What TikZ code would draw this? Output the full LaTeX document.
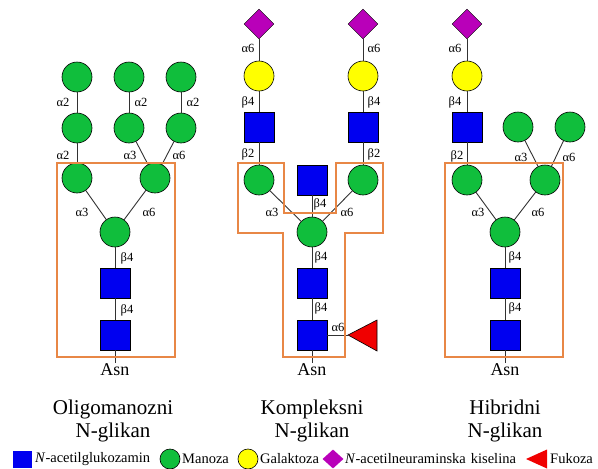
\documentclass[tikz,border=0pt]{standalone}
\usepackage{fontspec}
\setmainfont{Liberation Serif}
\usetikzlibrary{shapes.geometric}
\definecolor{gnblue}{RGB}{0,0,240}
\definecolor{mangreen}{RGB}{16,190,60}
\definecolor{galyel}{RGB}{255,255,0}
\definecolor{neupur}{RGB}{185,0,185}
\definecolor{fucred}{RGB}{240,0,0}
\definecolor{boxorange}{RGB}{232,135,70}
\definecolor{linkgray}{RGB}{50,50,50}
\tikzset{
  glc/.style={draw=black,line width=0.6pt,fill=gnblue,rectangle,minimum width=30pt,minimum height=30pt,inner sep=0pt},
  man/.style={draw=black,line width=0.6pt,fill=mangreen,circle,minimum size=30pt,inner sep=0pt},
  gal/.style={draw=black,line width=0.6pt,fill=galyel,circle,minimum size=30pt,inner sep=0pt},
  neu/.style={draw=black,line width=0.4pt,fill=neupur,diamond,minimum width=30pt,minimum height=30pt,inner sep=0pt},
  link/.style={draw=linkgray,line width=0.9pt},
  lab/.style={font=\fontsize{12.5}{13}\selectfont,inner sep=0pt},
  asnlab/.style={font=\fontsize{18}{19}\selectfont,inner sep=1pt},
  title/.style={font=\fontsize{21}{23.5}\selectfont,align=center,inner sep=0pt},
  legtext/.style={font=\fontsize{14.5}{16}\selectfont,anchor=west,inner sep=0pt},
  frame/.style={draw=boxorange,line width=1.8pt},
}
\begin{document}
\begin{tikzpicture}[x=1pt,y=-1pt]
\useasboundingbox (0,0) rectangle (598,469);

% ================= Oligomannose =================
\node[man] (o11) at (77,77) {};
\node[man] (o21) at (129,77) {};
\node[man] (o31) at (181,77) {};
\node[man] (o12) at (77,128) {};
\node[man] (o22) at (129,128) {};
\node[man] (o32) at (181,128) {};
\node[man] (oL) at (77,178) {};
\node[man] (oR) at (155,178) {};
\node[man] (oC) at (115,232) {};
\node[glc] (oS1) at (115,283) {};
\node[glc] (oS2) at (115,335) {};
\node[asnlab] (oAsn) at (115,370) {Asn};
\draw[link] (o11) -- (o12);
\draw[link] (o21) -- (o22);
\draw[link] (o31) -- (o32);
\draw[link] (o12) -- (oL);
\draw[link] (o22) -- (oR);
\draw[link] (o32) -- (oR);
\draw[link] (oL) -- (oC);
\draw[link] (oR) -- (oC);
\draw[link] (oC) -- (oS1);
\draw[link] (oS1) -- (oS2);
\draw[link] (oS2) -- (oAsn);
\node[lab] (ol1) at (63,102) {α2};
\node[lab] (ol2) at (141,102) {α2};
\node[lab] (ol3) at (193,102) {α2};
\node[lab] (ol4) at (63,155) {α2};
\node[lab] (ol5) at (130,155) {α3};
\node[lab] (ol6) at (179,155) {α6};
\node[lab] (ol7) at (82,212) {α3};
\node[lab] (ol8) at (149,212) {α6};
\node[lab] (ol9) at (127,258) {β4};
\node[lab] (ol10) at (127,310) {β4};
\draw[frame] (57,163) rectangle (175,357);
\node[title] (oT) at (113,421) {Oligomanozni\\N-glikan};

% ================= Complex =================
\node[neu] (cN1) at (259,24) {};
\node[neu] (cN2) at (363,24) {};
\node[gal] (cG1) at (259,76) {};
\node[gal] (cG2) at (363,76) {};
\node[glc] (cA1) at (259,127) {};
\node[glc] (cA2) at (363,127) {};
\node[man] (cL) at (259,180) {};
\node[man] (cR) at (363,180) {};
\node[glc] (cB) at (312,180) {};
\node[man] (cC) at (312,232) {};
\node[glc] (cS1) at (312,283) {};
\node[glc] (cS2) at (312,335) {};
\coordinate (cFt) at (348,335);
\node[asnlab] (cAsn) at (312,370) {Asn};
\draw[link] (cN1) -- (cG1);
\draw[link] (cN2) -- (cG2);
\draw[link] (cG1) -- (cA1);
\draw[link] (cG2) -- (cA2);
\draw[link] (cA1) -- (cL);
\draw[link] (cA2) -- (cR);
\draw[link] (cL) -- (cC);
\draw[link] (cR) -- (cC);
\draw[link] (cB) -- (cC);
\draw[link] (cC) -- (cS1);
\draw[link] (cS1) -- (cS2);
\draw[link] (cS2) -- (cFt);
\draw[link] (cS2) -- (cAsn);
\draw[draw=black,line width=0.6pt,fill=fucred] (cFt) -- (377,320) -- (377,351) -- cycle;
\node[lab] (cl1) at (248,48) {α6};
\node[lab] (cl2) at (374,48) {α6};
\node[lab] (cl3) at (248,102) {β4};
\node[lab] (cl4) at (374,102) {β4};
\node[lab] (cl5) at (248,154) {β2};
\node[lab] (cl6) at (374,154) {β2};
\node[lab] (cl7) at (320,204) {β4};
\node[lab] (cl8) at (272,212) {α3};
\node[lab] (cl9) at (347,212) {α6};
\node[lab] (cl10) at (321,257) {β4};
\node[lab] (cl11) at (321,308) {β4};
\node[lab] (cl12) at (338,327) {α6};
\draw[frame] (238,163) -- (284,163) -- (284,213) -- (336,213) -- (336,163) -- (383,163)
  -- (383,233) -- (345,233) -- (345,357) -- (283,357) -- (283,233) -- (238,233) -- cycle;
\node[title] (cT) at (312,421) {Kompleksni\\N-glikan};

% ================= Hybrid =================
\node[neu] (hN) at (467,24) {};
\node[gal] (hG) at (467,76) {};
\node[glc] (hA) at (467,127) {};
\node[man] (hM1) at (518,127) {};
\node[man] (hM2) at (570,127) {};
\node[man] (hL) at (467,180) {};
\node[man] (hR) at (545,180) {};
\node[man] (hC) at (505,232) {};
\node[glc] (hS1) at (505,283) {};
\node[glc] (hS2) at (505,335) {};
\node[asnlab] (hAsn) at (505,370) {Asn};
\draw[link] (hN) -- (hG);
\draw[link] (hG) -- (hA);
\draw[link] (hA) -- (hL);
\draw[link] (hM1) -- (hR);
\draw[link] (hM2) -- (hR);
\draw[link] (hL) -- (hC);
\draw[link] (hR) -- (hC);
\draw[link] (hC) -- (hS1);
\draw[link] (hS1) -- (hS2);
\draw[link] (hS2) -- (hAsn);
\node[lab] (hl1) at (455,48) {α6};
\node[lab] (hl2) at (455,102) {β4};
\node[lab] (hl3) at (457,156) {β2};
\node[lab] (hl4) at (521,157) {α3};
\node[lab] (hl5) at (569,157) {α6};
\node[lab] (hl6) at (478,212) {α3};
\node[lab] (hl7) at (538,212) {α6};
\node[lab] (hl8) at (515,257) {β4};
\node[lab] (hl9) at (515,308) {β4};
\draw[frame] (445,163) rectangle (563,357);
\node[title] (hT) at (505,421) {Hibridni\\N-glikan};

% ================= Legend =================
\node[draw=none,fill=gnblue,rectangle,minimum width=19pt,minimum height=17pt,inner sep=0pt] (kS) at (22.5,459) {};
\node[legtext] (kSt) at (35,459) {\textit{N}-acetilglukozamin};
\node[draw=black,line width=0.6pt,fill=mangreen,circle,minimum size=20pt,inner sep=0pt] (kM) at (170,459) {};
\node[legtext] (kMt) at (182,459) {Manoza};
\node[draw=black,line width=0.6pt,fill=galyel,circle,minimum size=20pt,inner sep=0pt] (kG) at (248,459) {};
\node[legtext] (kGt) at (260,459) {Galaktoza};
\node[draw=none,fill=neupur,diamond,minimum width=21pt,minimum height=19pt,inner sep=0pt] (kN) at (333,459) {};
\node[legtext] (kNt) at (345,459) {\textit{N}-acetilneuraminska\hspace{5pt}kiselina};
\coordinate (kF) at (526,459);
\fill[fucred] (kF) -- (547,449.5) -- (547,468.5) -- cycle;
\node[legtext] (kFt) at (550,459) {Fukoza};
\end{tikzpicture}
\end{document}
